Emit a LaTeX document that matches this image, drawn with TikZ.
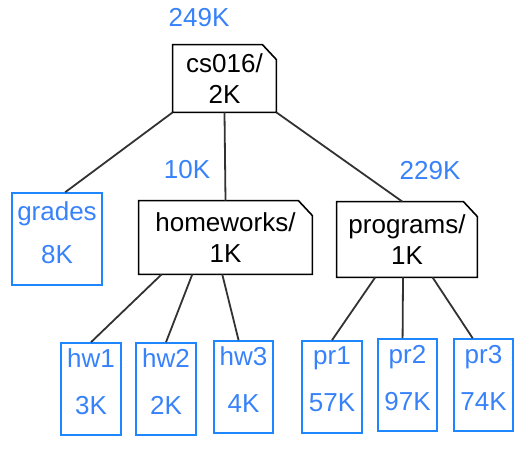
\documentclass[tikz,border=0pt]{standalone}
\usepackage{fontspec}
\setmainfont{Liberation Sans}
\usepackage{xcolor}
\usepackage{tikz}
\usetikzlibrary{positioning}
\definecolor{sizeblue}{RGB}{55,130,250}
\definecolor{fileblue}{RGB}{30,135,255}
\definecolor{linkgray}{RGB}{50,50,50}

% outline of a directory box with its top right corner cut off
\newcommand{\dirbox}[1]{%
  \draw[black,line width=0.8pt] (#1.south west) -- (#1.north west) -- ([xshift=-7pt]#1.north east)
    -- ([yshift=-7.5pt]#1.north east) -- (#1.south east) -- cycle;}

\begin{document}
\begin{tikzpicture}[x=0.5pt,y=-0.5pt,font=\fontsize{13}{15.5}\selectfont,
	dir/.style={inner sep=0pt,align=center,text=black},
	file/.style={draw=fileblue,line width=0.8pt,inner sep=0pt,align=center,text=sizeblue,
		minimum width=30pt,minimum height=46pt,text depth=7.5pt},
	total/.style={text=sizeblue},
	link/.style={draw=linkgray,line width=0.9pt}]
	\useasboundingbox (0,0) rectangle (526,452);

	% directories
	\node[dir,minimum width=51.5pt,minimum height=33.5pt] (cs) at (224.5,78.5) {cs016/\\2K};
	\node[dir,minimum width=86.5pt,minimum height=36.5pt] (hw) at (225.5,237.5) {homeworks/\\1K};
	\node[dir,minimum width=70pt,minimum height=37.5pt] (prog) at (407,239.5) {programs/\\1K};
	\dirbox{cs}
	\dirbox{hw}
	\dirbox{prog}

	% totals
	\node[total] (tcs) at (199,18) {249K};
	\node[total] (thw) at (187,170) {10K};
	\node[total] (tprog) at (430,171) {229K};

	% files
	\node[file,minimum width=45pt,text depth=6pt] (grades) at (57,239) {grades\\[6pt]8K};
	\node[file] (hw1) at (91,389) {hw1\\[8pt]3K};
	\node[file] (hw2) at (166,389) {hw2\\[8pt]2K};
	\node[file,minimum width=29.5pt] (hw3) at (243.5,387) {hw3\\[8pt]4K};
	\node[file] (pr1) at (332,387) {pr1\\[8pt]57K};
	\node[file,minimum width=29.5pt] (pr2) at (407.5,385) {pr2\\[8pt]97K};
	\node[file,minimum width=29.5pt] (pr3) at (483.5,385) {pr3\\[8pt]74K};

	\draw[link] (cs.south west) -- (grades.80)
		(cs.south) -- (hw.north)
		(cs.south east) -- (prog.97)
		(hw.-150) -- (hw1.north)
		(hw.-132) -- (hw2.north)
		(hw.-95) -- (hw3.96)
		(prog.-130) -- (pr1.north)
		(prog.-96) -- (pr2.96)
		(prog.-56) -- (pr3.103);
\end{tikzpicture}
\end{document}
